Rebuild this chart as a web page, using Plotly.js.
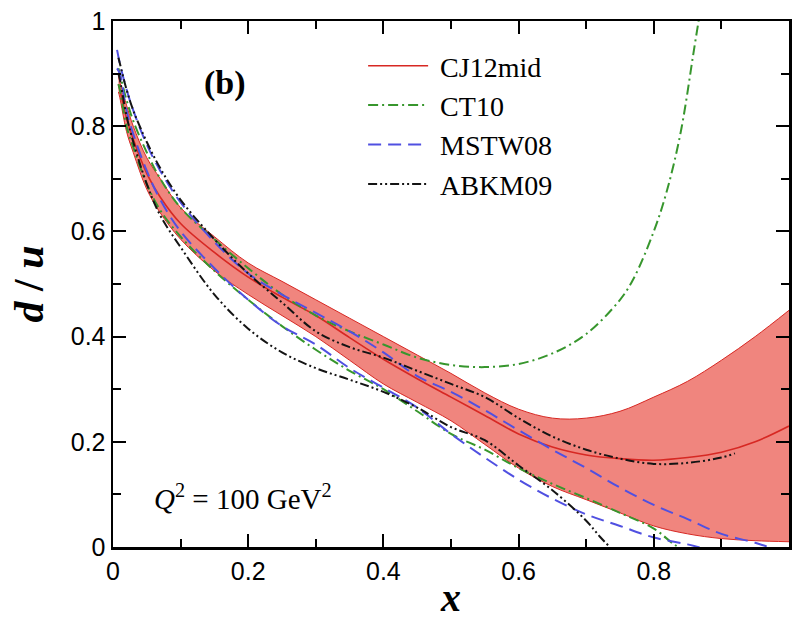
<!DOCTYPE html>
<html>
<head>
<meta charset="utf-8">
<script src="https://cdn.plot.ly/plotly-3.0.1.min.js"></script>
<style>html,body{margin:0;padding:0;background:#fff;}#chart{width:792px;height:621px;}</style>
</head>
<body>
<div id="chart"></div>
<script>
// CJ12mid band (upper / central / lower)
const cjX       = [0.008,0.01,0.02,0.03,0.05,0.07,0.1,0.15,0.2,0.25,0.3,0.35,0.4,0.45,0.5,0.55,0.6,0.65,0.7,0.75,0.8,0.85,0.9,0.95,1.0];
const cjUpper   = [0.895,0.885,0.84,0.80,0.74,0.70,0.645,0.59,0.54,0.505,0.47,0.435,0.40,0.365,0.33,0.293,0.262,0.245,0.245,0.258,0.285,0.315,0.355,0.40,0.45];
const cjCentral = [0.88,0.87,0.815,0.775,0.71,0.665,0.615,0.56,0.513,0.475,0.44,0.398,0.357,0.32,0.285,0.25,0.215,0.19,0.175,0.168,0.165,0.17,0.18,0.20,0.23];
const cjLower   = [0.865,0.855,0.79,0.75,0.68,0.635,0.585,0.525,0.48,0.44,0.40,0.355,0.31,0.275,0.24,0.195,0.15,0.115,0.09,0.065,0.04,0.025,0.016,0.012,0.01];

// CT10 upper / lower
const ctUpX = [0.008,0.01,0.02,0.03,0.05,0.07,0.1,0.15,0.2,0.25,0.3,0.35,0.4,0.45,0.5,0.55,0.6,0.65,0.7,0.75,0.77,0.8,0.82,0.84,0.86,0.87];
const ctUpY = [0.91,0.90,0.85,0.81,0.75,0.70,0.645,0.585,0.53,0.48,0.44,0.41,0.385,0.36,0.346,0.342,0.348,0.368,0.405,0.47,0.51,0.60,0.68,0.79,0.95,1.03];
const ctLoX = [0.008,0.01,0.02,0.03,0.05,0.07,0.1,0.15,0.2,0.25,0.3,0.35,0.4,0.45,0.5,0.55,0.6,0.65,0.7,0.75,0.8,0.83,0.85];
const ctLoY = [0.88,0.87,0.80,0.76,0.69,0.64,0.59,0.525,0.47,0.42,0.375,0.335,0.30,0.258,0.215,0.185,0.15,0.12,0.093,0.065,0.035,0.005,-0.01];

// MSTW08 upper / lower
const msUpX = [0.006,0.01,0.02,0.03,0.05,0.07,0.1,0.15,0.2,0.25,0.3,0.35,0.4,0.45,0.5,0.55,0.6,0.65,0.7,0.75,0.8,0.85,0.9,0.95,0.97,1.0];
const msUpY = [0.945,0.92,0.87,0.83,0.765,0.715,0.655,0.58,0.52,0.48,0.445,0.41,0.37,0.325,0.295,0.26,0.222,0.185,0.15,0.113,0.08,0.053,0.025,0.008,0.0,-0.01];
const msLoX = [0.006,0.01,0.02,0.03,0.05,0.07,0.1,0.15,0.2,0.25,0.3,0.35,0.4,0.45,0.5,0.55,0.6,0.65,0.7,0.75,0.8,0.85,0.88];
const msLoY = [0.91,0.90,0.83,0.785,0.715,0.66,0.60,0.53,0.47,0.42,0.385,0.34,0.303,0.265,0.215,0.17,0.128,0.092,0.062,0.04,0.018,0.005,-0.005];

// ABKM09 upper / lower
const abUpX = [0.008,0.01,0.02,0.03,0.05,0.07,0.1,0.15,0.2,0.25,0.3,0.35,0.4,0.45,0.5,0.55,0.6,0.65,0.7,0.75,0.8,0.85,0.9,0.92];
const abUpY = [0.93,0.92,0.87,0.83,0.77,0.72,0.66,0.585,0.52,0.465,0.41,0.38,0.36,0.335,0.31,0.285,0.245,0.21,0.185,0.168,0.158,0.16,0.17,0.178];
const abLoX = [0.008,0.01,0.02,0.03,0.05,0.07,0.1,0.15,0.2,0.25,0.3,0.35,0.4,0.45,0.5,0.55,0.6,0.65,0.7,0.72,0.735];
const abLoY = [0.90,0.89,0.82,0.77,0.69,0.63,0.57,0.48,0.415,0.37,0.34,0.318,0.295,0.265,0.228,0.203,0.155,0.108,0.05,0.02,0.0];

const RED = 'rgb(215,40,35)';
const FILL = 'rgba(238,120,112,0.9)';
const GREEN = 'rgb(55,150,45)';
const BLUE = 'rgb(80,80,225)';
const BLACK = 'rgb(20,20,20)';

const ctDash = '10px,4px,2px,4px';
const msDash = '13px,7px';
const abDash = '9px,3px,2px,3px,2px,3px';

const NB = '\u00A0';
const traces = [
  {x: cjX, y: cjLower, mode: 'lines', line: {color: RED, width: 1, shape: 'spline'}, showlegend: false, hoverinfo: 'skip'},
  {x: cjX, y: cjUpper, mode: 'lines', fill: 'tonexty', fillcolor: FILL, line: {color: RED, width: 1, shape: 'spline'}, showlegend: false, hoverinfo: 'skip'},
  {x: cjX, y: cjCentral, mode: 'lines', name: NB + 'CJ12mid', line: {color: RED, width: 1.6, shape: 'spline'}},
  {x: ctUpX, y: ctUpY, mode: 'lines', name: NB + 'CT10', legendgroup: 'ct', line: {color: GREEN, width: 2, dash: ctDash, shape: 'spline'}},
  {x: ctLoX, y: ctLoY, mode: 'lines', name: NB + 'CT10', legendgroup: 'ct', showlegend: false, line: {color: GREEN, width: 2, dash: ctDash, shape: 'spline'}},
  {x: msUpX, y: msUpY, mode: 'lines', name: NB + 'MSTW08', legendgroup: 'ms', line: {color: BLUE, width: 2, dash: msDash, shape: 'spline'}},
  {x: msLoX, y: msLoY, mode: 'lines', name: NB + 'MSTW08', legendgroup: 'ms', showlegend: false, line: {color: BLUE, width: 2, dash: msDash, shape: 'spline'}},
  {x: abUpX, y: abUpY, mode: 'lines', name: NB + 'ABKM09', legendgroup: 'ab', line: {color: BLACK, width: 2, dash: abDash, shape: 'spline'}},
  {x: abLoX, y: abLoY, mode: 'lines', name: NB + 'ABKM09', legendgroup: 'ab', showlegend: false, line: {color: BLACK, width: 2, dash: abDash, shape: 'spline'}}
];

const tickFont = {family: 'Liberation Sans, Arial, sans-serif', size: 25, color: '#000'};
const serif = 'Liberation Serif, Times New Roman, serif';

const axisStyle = {
  range: [0, 1], tickmode: 'linear', tick0: 0, dtick: 0.2,
  ticks: 'inside', ticklen: 13, tickwidth: 2, tickcolor: 'black',
  minor: {tickmode: 'linear', tick0: 0, dtick: 0.1, ticks: 'inside', ticklen: 8, tickwidth: 2, tickcolor: 'black', showgrid: false},
  showline: true, linewidth: 2.5, linecolor: 'black', mirror: 'ticks',
  showgrid: false, zeroline: false, tickfont: tickFont
};

const layout = {
  width: 792, height: 621,
  margin: {l: 113, r: 3, t: 21, b: 74},
  paper_bgcolor: '#fff', plot_bgcolor: '#fff',
  showlegend: true,
  legend: {
    x: 0.37, y: 0.962, xanchor: 'left', yanchor: 'top',
    font: {family: serif, size: 28, color: '#000'},
    bgcolor: 'rgba(255,255,255,0)', borderwidth: 0,
    itemwidth: 60, tracegroupgap: 0
  },
  xaxis: Object.assign({}, axisStyle, {
    title: {text: '<b><i>x</i></b>', font: {family: serif, size: 40, color: '#000'}, standoff: 0}
  }),
  yaxis: Object.assign({}, axisStyle, {
    title: {text: '<b><i>d</i> / <i>u</i></b>', font: {family: serif, size: 42, color: '#000'}, standoff: 14}
  }),
  annotations: [
    {xref: 'paper', yref: 'paper', x: 0.166, y: 0.882, xanchor: 'center', yanchor: 'middle', text: '<b>(b)</b>', showarrow: false,
     font: {family: serif, size: 34, color: '#000'}},
    {xref: 'paper', yref: 'paper', x: 0.058, y: 0.095, xanchor: 'left', yanchor: 'middle', text: '<i>Q</i><sup>2</sup> = 100 GeV<sup>2</sup>', showarrow: false,
     font: {family: serif, size: 29, color: '#000'}}
  ]
};

Plotly.newPlot('chart', traces, layout, {staticPlot: true, displayModeBar: false});
</script>
</body>
</html>
